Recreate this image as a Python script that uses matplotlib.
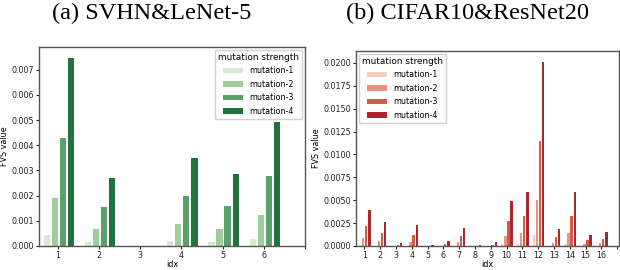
import matplotlib
matplotlib.use('Agg')
import matplotlib.pyplot as plt
import numpy as np
import seaborn as sns

# mutation strength labels
mutacije = ['mutation-1', 'mutation-2', 'mutation-3', 'mutation-4']

# (a) SVHN & LeNet-5
idx_a = [1, 2, 3, 4, 5, 6]
svhn_m1 = [0.00044, 0.00015, 0.0, 0.00019, 0.00015, 0.00027]
svhn_m2 = [0.00189, 0.00067, 0.0, 0.00087, 0.00067, 0.00123]
svhn_m3 = [0.00427, 0.00156, 0.0, 0.00199, 0.00160, 0.00279]
svhn_m4 = [0.00748, 0.00268, 0.0, 0.00351, 0.00287, 0.00494]

# (b) CIFAR10 & ResNet20
idx_b = list(range(1, 17))
cifar_m1 = [0.00012, 0.0, 0.0, 0.0, 0.0, 0.0, 0.0, 0.0,
            0.0, 0.00022, 0.00024, 0.00122, 0.0, 0.00024, 0.0, 0.0]
cifar_m2 = [0.00088, 0.00055, 0.0, 0.00045, 0.0, 0.0, 0.00045, 0.0,
            0.0, 0.00108, 0.00142, 0.00498, 0.00035, 0.00143, 0.00024, 0.00036]
cifar_m3 = [0.00218, 0.00142, 0.00012, 0.00120, 0.0, 0.00020, 0.00108, 0.0,
            0.00010, 0.00272, 0.00330, 0.01146, 0.00100, 0.00330, 0.00066, 0.00080]
cifar_m4 = [0.00392, 0.00262, 0.00034, 0.00230, 0.00012, 0.00055, 0.00197, 0.00012,
            0.00045, 0.00490, 0.00590, 0.02010, 0.00187, 0.00590, 0.00122, 0.00155]

zelene = sns.color_palette('Greens', 4, desat=0.75)
crvene = sns.color_palette('Reds', 4, desat=0.75)

plt.rcParams['font.family'] = 'DejaVu Sans'

fig = plt.figure(figsize=(6.2, 2.7), dpi=100)
ax1 = fig.add_axes([0.0629, 0.0889, 0.429, 0.737])
ax2 = fig.add_axes([0.5742, 0.0889, 0.4238, 0.7222])

pomeraji = [-0.27, -0.075, 0.12, 0.315]
sirina = 0.15


def crtaj(ax, idx, serije, boje):
    x = np.array(idx, dtype=float)
    for k in range(4):
        ax.bar(x + pomeraji[k], serije[k], width=sirina, color=boje[k],
               label=mutacije[k])
    for s in ax.spines.values():
        s.set_color('#555555')
        s.set_linewidth(1.0)
    ax.tick_params(labelsize=5.8, length=2.5, width=0.8, pad=1, colors='#222222')
    ax.set_xlabel('idx', fontsize=5.8, labelpad=0)
    ax.set_ylabel('FVS value', fontsize=5.8, labelpad=2)


crtaj(ax1, idx_a, [svhn_m1, svhn_m2, svhn_m3, svhn_m4], zelene)
ax1.set_xlim(0.54, 7.0)
ax1.set_ylim(0, 0.0079)
ax1.set_xticks(idx_a + [7])
ax1.set_xticklabels([str(i) for i in idx_a] + [''])
ax1.set_yticks(np.arange(0, 0.0071, 0.001))
ax1.yaxis.set_major_formatter(matplotlib.ticker.FormatStrFormatter('%.3f'))
ax1.legend(title='mutation strength', loc='upper right', fontsize=5.8,
           title_fontsize=6.4, borderaxespad=0.35, labelspacing=0.55,
           handlelength=2.4, framealpha=0.9)

crtaj(ax2, idx_b, [cifar_m1, cifar_m2, cifar_m3, cifar_m4], crvene)
ax2.set_xlim(0.47, 17.1)
ax2.set_ylim(0, 0.0213)
ax2.set_xticks(idx_b + [17])
ax2.set_xticklabels([str(i) for i in idx_b] + [''])
ax2.set_yticks(np.arange(0, 0.02001, 0.0025))
ax2.yaxis.set_major_formatter(matplotlib.ticker.FormatStrFormatter('%.4f'))
ax2.legend(title='mutation strength', loc='upper left', fontsize=5.8,
           title_fontsize=6.4, borderaxespad=0.35, labelspacing=0.55,
           handlelength=2.4, framealpha=0.9)

fig.text(0.245, 0.952, '(a) SVHN&LeNet-5', ha='center', va='center',
         fontsize=17.5, family='Liberation Serif')
fig.text(0.754, 0.952, '(b) CIFAR10&ResNet20', ha='center', va='center',
         fontsize=17.5, family='Liberation Serif')

fig.savefig('out.png', dpi=100)
